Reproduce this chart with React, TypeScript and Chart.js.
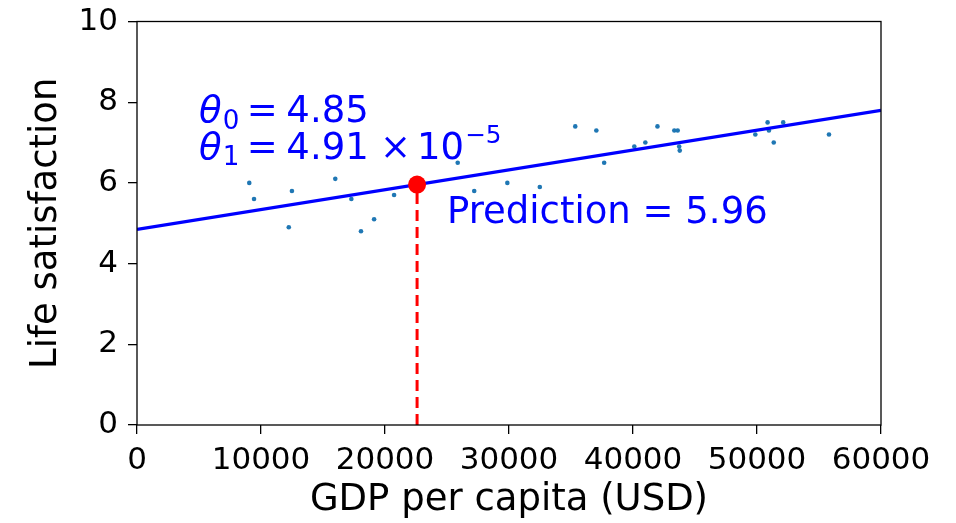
import React, { useEffect, useRef } from "react";
import { Chart, registerables } from "chart.js";

Chart.register(...registerables);

// GDP per capita (USD) and life satisfaction
const gdpPerCapita = [
  9054, 9437, 12240, 12495, 15991, 17288, 18064, 19121, 20732, 25864,
  27195, 29866, 32485, 35343, 37044, 37675, 40106, 40996, 41973, 43331,
  43603, 43724, 43770, 49866, 50855, 50962, 51350, 52114, 55805,
];
const lifeSatisfaction = [
  6.0, 5.6, 4.9, 5.8, 6.1, 5.6, 4.8, 5.1, 5.7, 6.5,
  5.8, 6.0, 5.9, 7.4, 7.3, 6.5, 6.9, 7.0, 7.4, 7.3,
  7.3, 6.9, 6.8, 7.2, 7.5, 7.3, 7.0, 7.5, 7.2,
];

// Fitted model line endpoints
const fitX = [0, 60000];
const fitY = [4.85, 7.8];

// Prediction
const predictionX = 22587;
const predictionY = 5.96;

// Axis ticks
const xTicks = [0, 10000, 20000, 30000, 40000, 50000, 60000];
const yTicks = [0, 2, 4, 6, 8, 10];

// Annotation anchor points (data coordinates)
const theta0Pos = [5000, 7.5];
const theta1Pos = [5000, 6.6];
const predictionTextPos = [25000, 5.0];
const theta0Text = "4.85";
const theta1Mantissa = "4.91";
const theta1Exponent = "−5";
const predictionText = "Prediction = 5.96";

const FONT = '"DejaVu Sans", "Noto Sans", sans-serif';
const BIG = 37;
const K = BIG / 36;

type Piece = { t: string; size: number; dx: number; dy: number; italic?: boolean };

function drawPieces(ctx: CanvasRenderingContext2D, x0: number, y0: number, pieces: Piece[]) {
  for (const p of pieces) {
    ctx.font = `${p.italic ? "italic " : ""}${p.size * K}px ${FONT}`;
    ctx.fillText(p.t, x0 + p.dx * K, y0 + p.dy * K);
  }
}

const textPlugin = {
  id: "mathText",
  afterDatasetsDraw(chart: any) {
    const { ctx, chartArea, scales } = chart;
    const xs = scales.x;
    const ys = scales.y;
    ctx.save();
    // spines
    ctx.strokeStyle = "#000";
    ctx.lineWidth = 1.3;
    ctx.strokeRect(chartArea.left, chartArea.top, chartArea.right - chartArea.left, chartArea.bottom - chartArea.top);

    ctx.fillStyle = "#0000ff";
    ctx.textAlign = "left";
    ctx.textBaseline = "alphabetic";

    const a0x = xs.getPixelForValue(theta0Pos[0]);
    const a0y = ys.getPixelForValue(theta0Pos[1]);
    drawPieces(ctx, a0x, a0y, [
      { t: "θ", size: 36, dx: 0, dy: 0, italic: true },
      { t: "0", size: 25.5, dx: 23, dy: 6.6 },
      { t: "=", size: 36, dx: 46.5, dy: 0 },
      { t: theta0Text, size: 36, dx: 85, dy: 0 },
    ]);

    const a1x = xs.getPixelForValue(theta1Pos[0]);
    const a1y = ys.getPixelForValue(theta1Pos[1]);
    drawPieces(ctx, a1x, a1y, [
      { t: "θ", size: 36, dx: 0, dy: 0, italic: true },
      { t: "1", size: 25.5, dx: 23, dy: 6.6 },
      { t: "=", size: 36, dx: 46.5, dy: 0 },
      { t: theta1Mantissa, size: 36, dx: 85, dy: 0 },
      { t: "×", size: 36, dx: 176, dy: 0 },
      { t: "10", size: 36, dx: 212, dy: 0 },
      { t: theta1Exponent, size: 24, dx: 259, dy: -15 },
    ]);

    const px = xs.getPixelForValue(predictionTextPos[0]);
    const py = ys.getPixelForValue(predictionTextPos[1]);
    ctx.font = `${BIG}px ${FONT}`;
    ctx.fillText(predictionText, px, py);
    ctx.restore();
  },
};

export default function App() {
  const ref = useRef<HTMLCanvasElement | null>(null);

  useEffect(() => {
    document.body.style.margin = "0";
    const canvas = ref.current;
    if (!canvas) return;

    const scatterData = gdpPerCapita.map((g, i) => ({ x: g, y: lifeSatisfaction[i] }));
    const fitData = fitX.map((v, i) => ({ x: v, y: fitY[i] }));

    const chart = new Chart(canvas, {
      type: "scatter",
      data: {
        datasets: [
          {
            data: [{ x: predictionX, y: predictionY }],
            pointRadius: 9,
            pointBackgroundColor: "#ff0000",
            pointBorderWidth: 0,
            showLine: false,
            order: 0,
          },
          {
            data: [
              { x: predictionX, y: 0 },
              { x: predictionX, y: predictionY },
            ],
            showLine: true,
            borderColor: "#ff0000",
            borderWidth: 3,
            borderDash: [11, 6],
            pointRadius: 0,
            order: 1,
          },
          {
            data: fitData,
            showLine: true,
            borderColor: "#0000ff",
            borderWidth: 3.3,
            pointRadius: 0,
            order: 2,
          },
          {
            data: scatterData,
            pointRadius: 2.3,
            pointBackgroundColor: "#1f77b4",
            pointBorderWidth: 0,
            order: 3,
          },
        ] as any,
      },
      options: {
        animation: false,
        responsive: false,
        maintainAspectRatio: false,
        events: [],
        layout: { padding: { top: 21.5, right: 75, left: 0, bottom: 0 } },
        plugins: {
          legend: { display: false },
          tooltip: { enabled: false },
        },
        scales: {
          x: {
            type: "linear",
            min: xTicks[0],
            max: xTicks[xTicks.length - 1],
            afterFit: (s: any) => {
              s.height = 98;
              s.paddingLeft = 0;
              s.paddingRight = 0;
            },
            afterBuildTicks: (s: any) => {
              s.ticks = xTicks.map((v) => ({ value: v }));
            },
            ticks: {
              color: "#000",
              font: { family: FONT, size: 31 },
              padding: 8,
              maxRotation: 0,
              autoSkip: false,
              callback: (v: any) => String(v),
            },
            grid: {
              display: true,
              drawOnChartArea: false,
              drawTicks: true,
              tickLength: 9,
              color: "#000",
              lineWidth: 1.3,
            },
            border: { display: false },
            title: {
              display: true,
              text: "GDP per capita (USD)",
              color: "#000",
              font: { family: FONT, size: BIG },
              padding: { top: 0, bottom: 0 },
            },
          },
          y: {
            type: "linear",
            min: yTicks[0],
            max: yTicks[yTicks.length - 1],
            afterFit: (s: any) => {
              s.width = 137;
              s.paddingTop = 0;
              s.paddingBottom = 0;
            },
            afterBuildTicks: (s: any) => {
              s.ticks = yTicks.map((v) => ({ value: v }));
            },
            ticks: {
              color: "#000",
              font: { family: FONT, size: 31 },
              padding: 10,
              autoSkip: false,
              callback: (v: any) => String(v),
            },
            grid: {
              display: true,
              drawOnChartArea: false,
              drawTicks: true,
              tickLength: 9,
              color: "#000",
              lineWidth: 1.3,
            },
            border: { display: false },
            title: {
              display: true,
              text: "Life satisfaction",
              color: "#000",
              font: { family: FONT, size: BIG },
              padding: { top: 24, bottom: 0 },
            },
          },
        },
      },
      plugins: [textPlugin],
    });

    return () => chart.destroy();
  }, []);

  return <canvas ref={ref} width={956} height={523} style={{ display: "block" }} />;
}
